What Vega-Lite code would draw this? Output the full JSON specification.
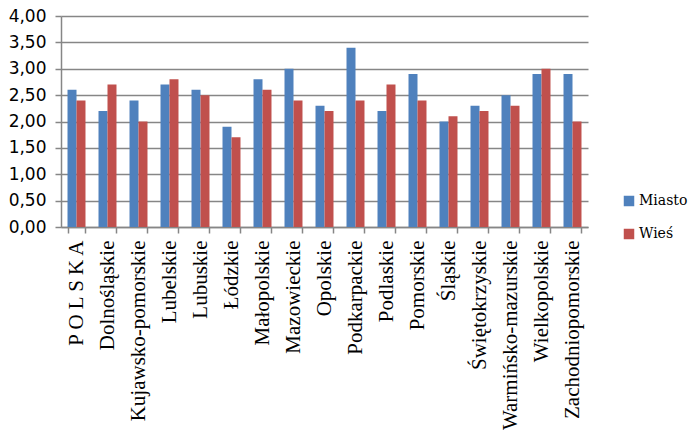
{
  "$schema": "https://vega.github.io/schema/vega-lite/v6.json",
  "autosize": {"type": "none"},
  "padding": {"left": 61, "top": 16, "right": 110, "bottom": 209},
  "width": 527,
  "height": 211,
  "background": "white",
  "data": {"values": [
    {"region": "P O L S K A", "series": "Miasto", "value": 2.6},
    {"region": "P O L S K A", "series": "Wieś", "value": 2.4},
    {"region": "Dolnośląskie", "series": "Miasto", "value": 2.2},
    {"region": "Dolnośląskie", "series": "Wieś", "value": 2.7},
    {"region": "Kujawsko-pomorskie", "series": "Miasto", "value": 2.4},
    {"region": "Kujawsko-pomorskie", "series": "Wieś", "value": 2.0},
    {"region": "Lubelskie", "series": "Miasto", "value": 2.7},
    {"region": "Lubelskie", "series": "Wieś", "value": 2.8},
    {"region": "Lubuskie", "series": "Miasto", "value": 2.6},
    {"region": "Lubuskie", "series": "Wieś", "value": 2.5},
    {"region": "Łódzkie", "series": "Miasto", "value": 1.9},
    {"region": "Łódzkie", "series": "Wieś", "value": 1.7},
    {"region": "Małopolskie", "series": "Miasto", "value": 2.8},
    {"region": "Małopolskie", "series": "Wieś", "value": 2.6},
    {"region": "Mazowieckie", "series": "Miasto", "value": 3.0},
    {"region": "Mazowieckie", "series": "Wieś", "value": 2.4},
    {"region": "Opolskie", "series": "Miasto", "value": 2.3},
    {"region": "Opolskie", "series": "Wieś", "value": 2.2},
    {"region": "Podkarpackie", "series": "Miasto", "value": 3.4},
    {"region": "Podkarpackie", "series": "Wieś", "value": 2.4},
    {"region": "Podlaskie", "series": "Miasto", "value": 2.2},
    {"region": "Podlaskie", "series": "Wieś", "value": 2.7},
    {"region": "Pomorskie", "series": "Miasto", "value": 2.9},
    {"region": "Pomorskie", "series": "Wieś", "value": 2.4},
    {"region": "Śląskie", "series": "Miasto", "value": 2.0},
    {"region": "Śląskie", "series": "Wieś", "value": 2.1},
    {"region": "Świętokrzyskie", "series": "Miasto", "value": 2.3},
    {"region": "Świętokrzyskie", "series": "Wieś", "value": 2.2},
    {"region": "Warmińsko-mazurskie", "series": "Miasto", "value": 2.5},
    {"region": "Warmińsko-mazurskie", "series": "Wieś", "value": 2.3},
    {"region": "Wielkopolskie", "series": "Miasto", "value": 2.9},
    {"region": "Wielkopolskie", "series": "Wieś", "value": 3.0},
    {"region": "Zachodniopomorskie", "series": "Miasto", "value": 2.9},
    {"region": "Zachodniopomorskie", "series": "Wieś", "value": 2.0}
  ]},
  "mark": {"type": "bar"},
  "encoding": {
    "x": {
      "field": "region", "type": "nominal", "sort": null,
      "scale": {"paddingInner": 0.42, "paddingOuter": 0.21},
      "axis": {
        "title": null, "labelAngle": -90, "labelFont": "Liberation Serif", "labelFontSize": 21,
        "labelColor": "black", "labelPadding": 7, "labelLimit": 300,
        "tickBand": "extent", "tickSize": 6, "tickColor": "#868686", "tickWidth": 1.5,
        "domainColor": "#868686", "domainWidth": 1.5, "grid": false
      }
    },
    "xOffset": {"field": "series", "type": "nominal", "sort": ["Miasto", "Wieś"]},
    "y": {
      "field": "value", "type": "quantitative",
      "scale": {"domain": [0, 4], "nice": false},
      "axis": {
        "title": null, "values": [0, 0.5, 1, 1.5, 2, 2.5, 3, 3.5, 4],
        "labelExpr": "replace(format(datum.value, '.2f'), '.', ',')",
        "labelFont": "DejaVu Sans", "labelFontSize": 17, "labelColor": "black", "labelPadding": 9,
        "tickSize": 6, "tickColor": "#868686", "tickWidth": 1.5,
        "domainColor": "#868686", "domainWidth": 1.5,
        "grid": true, "gridColor": "#868686", "gridWidth": 1.5
      }
    },
    "color": {
      "field": "series", "type": "nominal",
      "scale": {"domain": ["Miasto", "Wieś"], "range": ["#4F81BD", "#C0504D"]},
      "legend": {
        "title": null, "orient": "none", "legendX": 561, "legendY": 178,
        "symbolType": "square", "symbolSize": 110, "symbolStrokeWidth": 0,
        "labelFont": "DejaVu Serif", "labelFontSize": 14, "labelColor": "black",
        "labelOffset": 3, "rowPadding": 19
      }
    }
  },
  "config": {
    "view": {"stroke": null}
  }
}
